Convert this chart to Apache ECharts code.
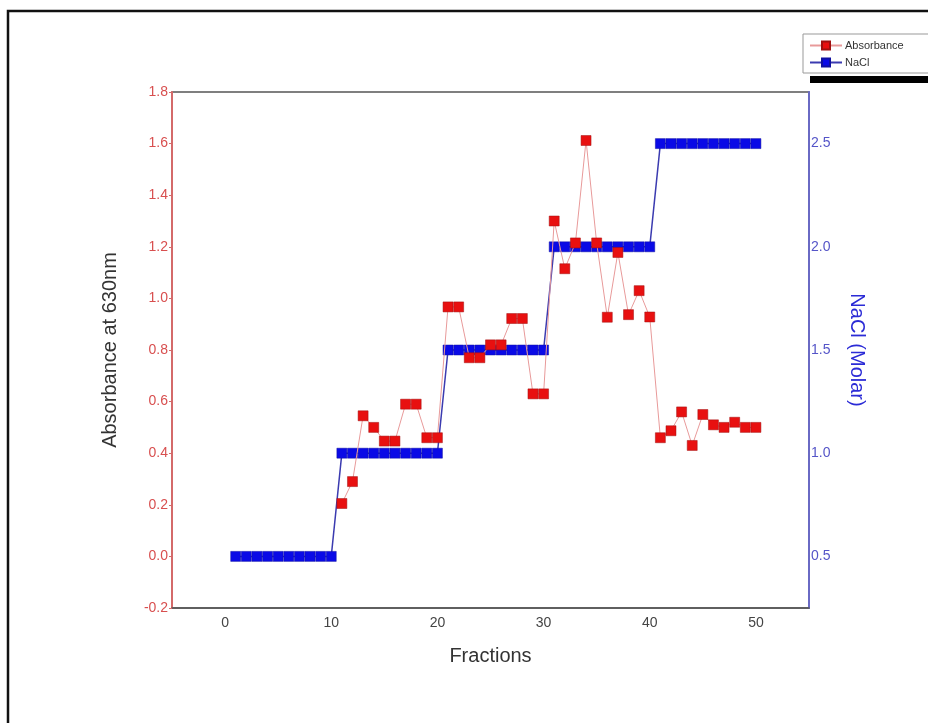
<!DOCTYPE html>
<html>
<head>
<meta charset="utf-8">
<script src="https://cdn.jsdelivr.net/npm/echarts@6/dist/echarts.min.js"></script>
<style>
  html, body { margin: 0; padding: 0; background: #fff; }
  #chart { width: 928px; height: 723px; }
</style>
</head>
<body>
<div id="chart"></div>
<script>
// fraction numbers
const fractions = [
  1, 2, 3, 4, 5, 6, 7, 8, 9, 10,
  11, 12, 13, 14, 15, 16, 17, 18, 19, 20,
  21, 22, 23, 24, 25, 26, 27, 28, 29, 30,
  31, 32, 33, 34, 35, 36, 37, 38, 39, 40,
  41, 42, 43, 44, 45, 46, 47, 48, 49, 50
]

// absorbance at 630nm (no reading for fractions 1-10)
const absorbance = [
  null, null, null, null, null, null, null, null, null, null,
  0.205, 0.29, 0.545, 0.50, 0.447, 0.447, 0.59, 0.59, 0.46, 0.46,
  0.967, 0.967, 0.77, 0.77, 0.82, 0.82, 0.922, 0.922, 0.63, 0.63,
  1.30, 1.115, 1.215, 1.612, 1.215, 0.927, 1.178, 0.937, 1.03, 0.928,
  0.46, 0.487, 0.56, 0.43, 0.55, 0.51, 0.50, 0.52, 0.50, 0.50
]

// NaCl step gradient (Molar)
const nacl = [
  0.5, 0.5, 0.5, 0.5, 0.5, 0.5, 0.5, 0.5, 0.5, 0.5,
  1.0, 1.0, 1.0, 1.0, 1.0, 1.0, 1.0, 1.0, 1.0, 1.0,
  1.5, 1.5, 1.5, 1.5, 1.5, 1.5, 1.5, 1.5, 1.5, 1.5,
  2.0, 2.0, 2.0, 2.0, 2.0, 2.0, 2.0, 2.0, 2.0, 2.0,
  2.5, 2.5, 2.5, 2.5, 2.5, 2.5, 2.5, 2.5, 2.5, 2.5
]

const xTicks = [0, 10, 20, 30, 40, 50]
const naclTicks = [0.5, 1.0, 1.5, 2.0, 2.5]

const font = 'Liberation Sans, Arial, sans-serif'
const chart = echarts.init(document.getElementById('chart'))

const absPoints = fractions.map((f, i) => [f, absorbance[i]]).filter(p => p[1] !== null)
const naclPoints = fractions.map((f, i) => [f, nacl[i]])

chart.setOption({
  animation: false,
  textStyle: { fontFamily: font },
  graphic: [{
    // outer frame
    type: 'rect',
    shape: { x: 8, y: 11, width: 960, height: 760 },
    style: { fill: 'none', stroke: '#111', lineWidth: 2.5 },
    silent: true,
  }, {
    // legend drop shadow
    type: 'rect',
    shape: { x: 810, y: 76, width: 130, height: 7 },
    style: { fill: '#000' },
    silent: true,
  }],
  legend: {
    orient: 'vertical',
    left: 803,
    top: 34,
    itemGap: 6,
    itemWidth: 32,
    itemHeight: 10,
    padding: [6, 30, 5, 6],
    borderColor: '#999',
    borderWidth: 1,
    backgroundColor: '#fff',
    textStyle: { fontSize: 11, color: '#333', padding: [0, 0, 0, -2] },
    data: ['Absorbance', 'NaCl'],
  },
  grid: {
    left: 172,
    right: 119,
    top: 92,
    bottom: 115,
    show: true,
    borderColor: '#555',
    borderWidth: 1.5,
  },
  xAxis: {
    type: 'value',
    min: -5,
    max: 55,
    interval: 5,
    name: 'Fractions',
    nameLocation: 'middle',
    nameGap: 38,
    nameTextStyle: { fontSize: 20, color: '#333' },
    axisLine: { onZero: false, lineStyle: { color: '#555', width: 1.5 } },
    axisTick: { show: false },
    splitLine: { show: false },
    axisLabel: {
      fontSize: 14,
      color: '#444',
      margin: 8,
      formatter: v => (xTicks.includes(v) ? String(v) : ''),
    },
  },
  yAxis: [{
    type: 'value',
    min: -0.2,
    max: 1.8,
    interval: 0.2,
    position: 'left',
    name: 'Absorbance at 630nm',
    nameLocation: 'middle',
    nameGap: 52,
    nameTextStyle: { fontSize: 20, color: '#333' },
    axisLine: { show: true, onZero: false, lineStyle: { color: '#d46a6a', width: 2 } },
    axisTick: { show: true, length: 3, lineStyle: { color: '#d46a6a' } },
    splitLine: { show: false },
    axisLabel: {
      fontSize: 14,
      color: '#d84f4f',
      margin: 4,
      formatter: v => v.toFixed(1),
    },
  }, {
    type: 'value',
    min: 0.25,
    max: 2.75,
    interval: 0.25,
    position: 'right',
    name: 'NaCl (Molar)',
    nameLocation: 'middle',
    nameRotate: -90,
    nameGap: 38,
    nameTextStyle: { fontSize: 20, color: '#2b2bd6' },
    axisLine: { show: true, onZero: false, lineStyle: { color: '#6a6ac4', width: 2 } },
    axisTick: { show: false },
    splitLine: { show: false },
    axisLabel: {
      fontSize: 14,
      color: '#5555c8',
      margin: 2,
      formatter: v => (naclTicks.some(t => Math.abs(t - v) < 1e-6) ? v.toFixed(1) : ''),
    },
  }],
  series: [{
    name: 'NaCl',
    type: 'line',
    yAxisIndex: 1,
    data: naclPoints,
    symbol: 'rect',
    symbolSize: 10,
    z: 2,
    lineStyle: { color: '#3b3bb0', width: 1.5 },
    itemStyle: { color: '#0a0ae6', borderColor: '#1010a0', borderWidth: 0.5 },
  }, {
    name: 'Absorbance',
    type: 'line',
    yAxisIndex: 0,
    data: absPoints,
    symbol: 'rect',
    symbolSize: 10,
    z: 3,
    lineStyle: { color: '#e89a9a', width: 1 },
    itemStyle: { color: '#e81010', borderColor: '#a01010', borderWidth: 0.5 },
  }],
})
</script>
</body>
</html>
